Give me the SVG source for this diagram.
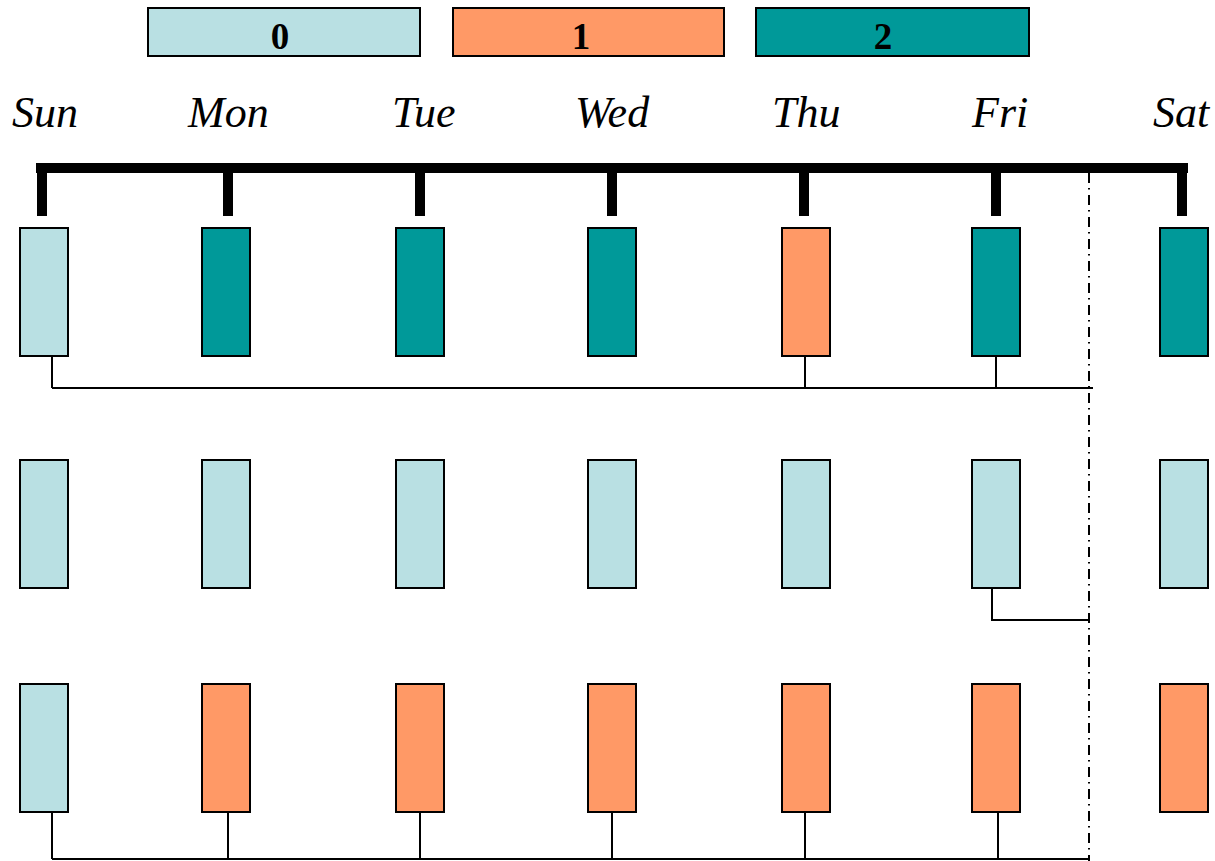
<svg xmlns="http://www.w3.org/2000/svg" width="1215" height="861" viewBox="0 0 1215 861">
  <style>
    .v0 { fill: #B9E0E3; }
    .v1 { fill: #FF9966; }
    .v2 { fill: #009999; }
    .box { stroke: #000; stroke-width: 2; }
    .key { font-family: "Liberation Serif", "Times New Roman", serif; font-weight: bold; font-size: 37px; text-anchor: middle; fill: #000; }
    .day { font-family: "Liberation Serif", "Times New Roman", serif; font-style: italic; font-size: 44px; fill: #000; }
    .bus { stroke: #000; stroke-width: 10; fill: none; stroke-linecap: butt; }
    .wire { stroke: #000; stroke-width: 2; fill: none; }
    .cut { stroke: #000; stroke-width: 2; fill: none; stroke-dasharray: 10 5 1.5 5.5; }
  </style>
  <rect width="1215" height="861" fill="#fff"/>

  <!-- legend -->
  <g id="legend">
    <g id="key-0"><rect class="v0 box" x="148" y="8" width="272" height="48"/><text class="key" x="280" y="49">0</text></g>
    <g id="key-1"><rect class="v1 box" x="453" y="8" width="271" height="48"/><text class="key" x="581" y="49">1</text></g>
    <g id="key-2"><rect class="v2 box" x="756" y="8" width="273" height="48"/><text class="key" x="883" y="49">2</text></g>
  </g>

  <!-- day labels -->
  <g id="days">
    <text class="day" x="12" y="127">Sun</text>
    <text class="day" x="188" y="127">Mon</text>
    <text class="day" x="392" y="127">Tue</text>
    <text class="day" x="575" y="127">Wed</text>
    <text class="day" x="772" y="127">Thu</text>
    <text class="day" x="972" y="127">Fri</text>
    <text class="day" x="1153" y="127">Sat</text>
  </g>

  <!-- connectors -->
  <g id="connectors">
    <path class="bus" d="M36 168 H1188 M42 168 V216 M228 168 V216 M420 168 V216 M612 168 V216 M804 168 V216 M996 168 V216 M1182 168 V216"/>
    <path class="cut" d="M1089 173 V861"/>
    <path class="wire" d="M52 356 V388 M805 356 V388 M996 356 V388 M52 388 H1093"/>
    <path class="wire" d="M992 588 V620 H1088"/>
    <path class="wire" d="M52 812 V859 M228 812 V859 M420 812 V859 M612 812 V859 M805 812 V859 M998 812 V859 M52 859 H1090"/>
  </g>

  <!-- row 1 -->
  <g id="r1-sun"><rect class="v0 box" x="20" y="228" width="48" height="128"/></g>
  <g id="r1-mon"><rect class="v2 box" x="202" y="228" width="48" height="128"/></g>
  <g id="r1-tue"><rect class="v2 box" x="396" y="228" width="48" height="128"/></g>
  <g id="r1-wed"><rect class="v2 box" x="588" y="228" width="48" height="128"/></g>
  <g id="r1-thu"><rect class="v1 box" x="782" y="228" width="48" height="128"/></g>
  <g id="r1-fri"><rect class="v2 box" x="972" y="228" width="48" height="128"/></g>
  <g id="r1-sat"><rect class="v2 box" x="1160" y="228" width="48" height="128"/></g>

  <!-- row 2 -->
  <g id="r2-sun"><rect class="v0 box" x="20" y="460" width="48" height="128"/></g>
  <g id="r2-mon"><rect class="v0 box" x="202" y="460" width="48" height="128"/></g>
  <g id="r2-tue"><rect class="v0 box" x="396" y="460" width="48" height="128"/></g>
  <g id="r2-wed"><rect class="v0 box" x="588" y="460" width="48" height="128"/></g>
  <g id="r2-thu"><rect class="v0 box" x="782" y="460" width="48" height="128"/></g>
  <g id="r2-fri"><rect class="v0 box" x="972" y="460" width="48" height="128"/></g>
  <g id="r2-sat"><rect class="v0 box" x="1160" y="460" width="48" height="128"/></g>

  <!-- row 3 -->
  <g id="r3-sun"><rect class="v0 box" x="20" y="684" width="48" height="128"/></g>
  <g id="r3-mon"><rect class="v1 box" x="202" y="684" width="48" height="128"/></g>
  <g id="r3-tue"><rect class="v1 box" x="396" y="684" width="48" height="128"/></g>
  <g id="r3-wed"><rect class="v1 box" x="588" y="684" width="48" height="128"/></g>
  <g id="r3-thu"><rect class="v1 box" x="782" y="684" width="48" height="128"/></g>
  <g id="r3-fri"><rect class="v1 box" x="972" y="684" width="48" height="128"/></g>
  <g id="r3-sat"><rect class="v1 box" x="1160" y="684" width="48" height="128"/></g>
</svg>
